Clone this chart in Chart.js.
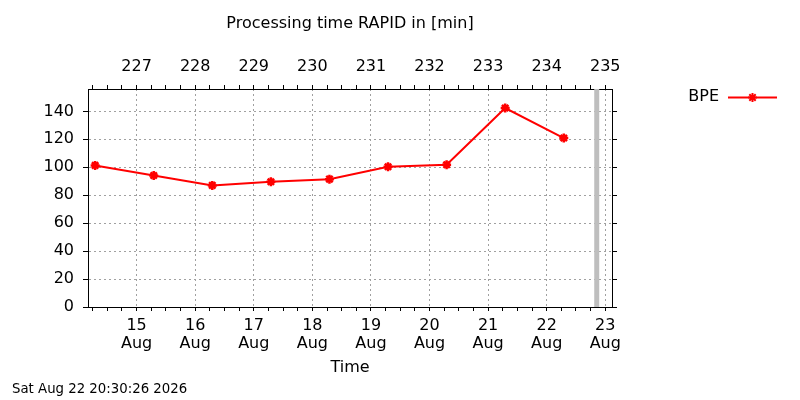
<!DOCTYPE html>
<html>
<head>
<meta charset="utf-8">
<title>Processing time RAPID</title>
<script src="https://cdn.jsdelivr.net/npm/chart.js@4/dist/chart.umd.min.js"></script>
<style>
  body { margin: 0; background: #fff; }
  canvas { display: block; }
</style>
</head>
<body>
<canvas id="rapidChart" width="800" height="400"></canvas>
<script>
// BPE runs (UTC) and their processing time in minutes
const runTimes = [
    '2026-08-14T07:00', '2026-08-15T07:00', '2026-08-16T07:00',
    '2026-08-17T07:00', '2026-08-18T07:00', '2026-08-19T07:00',
    '2026-08-20T07:00', '2026-08-21T07:00', '2026-08-22T07:00'
];
const bpeMinutes = [101.3, 94.1, 87.0, 89.6, 91.5, 100.4, 101.8, 142.4, 120.9];
const seriesName = 'BPE';

// time the plot was made (grey marker + footer)
const nowTime = '2026-08-22T20:30:26';
const nowLabel = 'Sat Aug 22 20:30:26 2026';

const monthNames = ['Jan', 'Feb', 'Mar', 'Apr', 'May', 'Jun', 'Jul', 'Aug', 'Sep', 'Oct', 'Nov', 'Dec'];
const plotYear = 2026;

// axis ranges (x in day of year)
const xMin = 226.17;
const xMax = 235.115;
const yMax = 156;

function dayOfYear(str) {
    const d = new Date(str + 'Z');
    return (d.getTime() - Date.UTC(d.getUTCFullYear(), 0, 0)) / 86400000;
}

function dateLabel(doy) {
    const d = new Date(Date.UTC(plotYear, 0, 0) + doy * 86400000);
    return [String(d.getUTCDate()), monthNames[d.getUTCMonth()]];
}

const isMajor = v => Number.isInteger(v);
const gridColor = '#a0a0a0';
const gridDash = [2, 3];
const markerRadius = 4.5;

Chart.defaults.font.family = 'DejaVu Sans';
Chart.defaults.font.size = 16;
Chart.defaults.color = '#000';

const bpePoints = runTimes.map((t, i) => ({ x: dayOfYear(t), y: bpeMinutes[i] }));
const nowDay = dayOfYear(nowTime);

// legend to the right of the plot + timestamp at the bottom
const sidePlugin = {
    id: 'sideText',
    afterDraw(chart) {
        const ctx = chart.ctx;
        ctx.save();
        ctx.fillStyle = '#000';
        ctx.font = '16px "DejaVu Sans"';
        ctx.textAlign = 'right';
        ctx.textBaseline = 'middle';
        ctx.fillText(seriesName, 719, 97);

        ctx.strokeStyle = 'red';
        ctx.lineWidth = 2;
        ctx.beginPath();
        ctx.moveTo(728, 97.5);
        ctx.lineTo(777, 97.5);
        ctx.stroke();

        const cx = 752.5, cy = 97.5, r = markerRadius, d = r * Math.SQRT1_2;
        ctx.beginPath();
        ctx.moveTo(cx - r, cy); ctx.lineTo(cx + r, cy);
        ctx.moveTo(cx, cy - r); ctx.lineTo(cx, cy + r);
        ctx.moveTo(cx - d, cy - d); ctx.lineTo(cx + d, cy + d);
        ctx.moveTo(cx - d, cy + d); ctx.lineTo(cx + d, cy - d);
        ctx.stroke();

        ctx.font = '13.3px "DejaVu Sans"';
        ctx.textAlign = 'left';
        ctx.fillText(nowLabel, 12, 390);
        ctx.restore();
    }
};

const ctx = document.getElementById('rapidChart').getContext('2d');
window.rapidChart = new Chart(ctx, {
    type: 'line',
    data: {
        datasets: [{
            label: seriesName,
            data: bpePoints,
            xAxisID: 'x',
            yAxisID: 'y',
            borderColor: 'red',
            backgroundColor: 'red',
            borderWidth: 2,
            tension: 0,
            pointStyle: 'star',
            pointRadius: markerRadius,
            pointBorderWidth: 2.5,
            pointBorderColor: 'red',
            order: 1
        }, {
            label: 'now',
            data: [{ x: nowDay, y: 0 }, { x: nowDay, y: yMax }],
            xAxisID: 'x',
            yAxisID: 'y',
            borderColor: '#bebebe',
            borderWidth: 5,
            pointRadius: 0,
            order: 2
        }]
    },
    options: {
        responsive: false,
        animation: false,
        layout: { padding: 0 },
        plugins: {
            legend: { display: false },
            tooltip: { enabled: false }
        },
        scales: {
            x: {
                type: 'linear',
                position: 'bottom',
                min: xMin,
                max: xMax,
                ticks: {
                    stepSize: 0.25,
                    includeBounds: false,
                    autoSkip: false,
                    maxRotation: 0,
                    minRotation: 0,
                    padding: 6,
                    font: { size: 16, lineHeight: 1.1 },
                    callback: v => isMajor(v) ? dateLabel(v) : ''
                },
                grid: {
                    color: c => (c.tick && isMajor(c.tick.value)) ? gridColor : 'rgba(0,0,0,0)',
                    tickColor: '#000',
                    tickLength: 4
                },
                border: { color: '#000', width: 1, dash: gridDash },
                title: {
                    display: true,
                    text: 'Time',
                    font: { size: 16 },
                    padding: { top: 0, bottom: 23 }
                },
                afterFit: s => { s.height = 93; }
            },
            x2: {
                type: 'linear',
                position: 'top',
                min: xMin,
                max: xMax,
                ticks: {
                    stepSize: 0.25,
                    includeBounds: false,
                    autoSkip: false,
                    maxRotation: 0,
                    minRotation: 0,
                    padding: 9,
                    font: { size: 16, lineHeight: 1.1 },
                    callback: v => isMajor(v) ? String(v) : ''
                },
                grid: { drawOnChartArea: false, tickColor: '#000', tickLength: 4 },
                border: { color: '#000', width: 1 },
                title: {
                    display: true,
                    text: 'Processing time RAPID in [min]',
                    font: { size: 16 },
                    padding: { top: 14, bottom: 0 }
                },
                afterFit: s => { s.height = 89; }
            },
            y: {
                position: 'left',
                min: 0,
                max: yMax,
                ticks: { stepSize: 20, includeBounds: false, padding: 9 },
                grid: { color: gridColor, tickColor: '#000', tickLength: 5 },
                border: { color: '#000', width: 1, dash: gridDash },
                afterFit: s => { s.width = 88; }
            },
            y2: {
                position: 'right',
                min: 0,
                max: yMax,
                ticks: { stepSize: 20, includeBounds: false, display: false },
                grid: { drawOnChartArea: false, tickColor: '#000', tickLength: 5 },
                border: { color: '#000', width: 1 },
                afterFit: s => { s.width = 188; }
            }
        }
    },
    plugins: [sidePlugin]
});
</script>
</body>
</html>
